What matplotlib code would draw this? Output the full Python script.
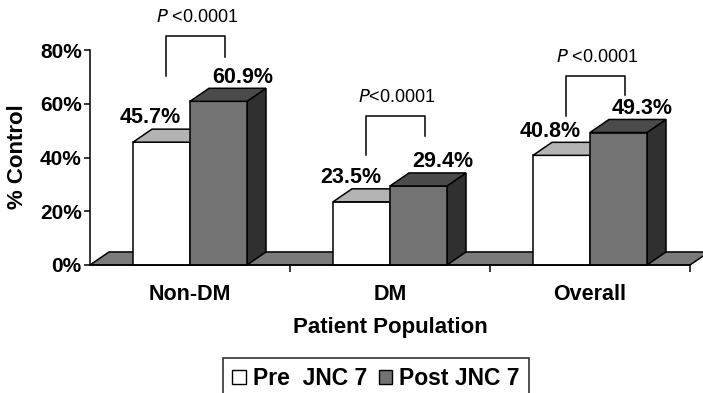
import matplotlib.pyplot as plt
from matplotlib.patches import Polygon, Patch

plt.rcParams["font.family"] = ["Liberation Sans", "DejaVu Sans"]

categories = ["Non-DM", "DM", "Overall"]
pre_jnc7 = [45.7, 23.5, 40.8]
post_jnc7 = [60.9, 29.4, 49.3]
series_names = ["Pre  JNC 7", "Post JNC 7"]
p_labels = ["$\\it{P}$ <0.0001", "$\\it{P}$<0.0001", "$\\it{P}$ <0.0001"]
# bracket heights (left end, top, right end) in % units
bracket_left = [70.3, 40.9, 55.4]
bracket_top = [85.2, 55.4, 70.3]
bracket_right = [77.4, 48.0, 63.3]
yticks = [0, 20, 40, 60, 80]

W, H = 703, 393
fig = plt.figure(figsize=(W / 100, H / 100), dpi=100)
fig.patch.set_facecolor("white")
ax = fig.add_axes([90 / W, (H - 265) / H, 600 / W, 215 / H])

bar_w = 0.285
dx, dy = 0.095, 4.85  # depth of the 3-D effect in data units
edge = dict(edgecolor="black", linewidth=1.1)

ax.set_xlim(-0.5, 2.5)
ax.set_ylim(0, 80)

# floor
x0, x1 = ax.get_xlim()
ax.add_patch(Polygon([(x0, 0), (x1, 0), (x1 + dx, dy), (x0 + dx, dy)],
                     closed=True, facecolor="#7a7a7a", clip_on=False, zorder=1, **edge))


def box(xl, v, front, top, side, z):
    ax.bar(xl, v, width=bar_w, align="edge", color=front, zorder=z, clip_on=False, **edge)
    ax.add_patch(Polygon([(xl, v), (xl + dx, v + dy), (xl + bar_w + dx, v + dy), (xl + bar_w, v)],
                         closed=True, facecolor=top, zorder=z, clip_on=False, **edge))
    ax.add_patch(Polygon([(xl + bar_w, 0), (xl + bar_w + dx, dy), (xl + bar_w + dx, v + dy), (xl + bar_w, v)],
                         closed=True, facecolor=side, zorder=z - 0.5, clip_on=False, **edge))


for i in range(len(categories)):
    box(i - bar_w, pre_jnc7[i], "white", "#b4b4b4", "#d0d0d0", 3)
    box(i, post_jnc7[i], "#737373", "#4b4b4b", "#303030", 5)

    lbl = dict(ha="center", va="center", fontsize=15.5, fontweight="bold", zorder=6)
    ax.text(i - bar_w / 2 - 0.055, pre_jnc7[i] + 9.0, f"{pre_jnc7[i]}%", **lbl)
    ax.text(i + bar_w / 2 + 0.12, post_jnc7[i] + 9.0, f"{post_jnc7[i]}%", **lbl)

    bl = i - bar_w / 2 + 0.02
    br = i + bar_w / 2 + 0.03
    ax.plot([bl, bl, br, br], [bracket_left[i], bracket_top[i], bracket_top[i], bracket_right[i]],
            color="black", linewidth=1.1, clip_on=False)
    ax.text((bl + br) / 2 + 0.01, bracket_top[i] + 6.8, p_labels[i], ha="center", va="center",
            fontsize=13)

for s in ["top", "right"]:
    ax.spines[s].set_visible(False)
for s in ["left", "bottom"]:
    ax.spines[s].set_linewidth(1.1)
    ax.spines[s].set_zorder(8)

ax.set_yticks(yticks)
ax.set_yticklabels([f"{t}%" for t in yticks], fontsize=15, fontweight="bold")
ax.tick_params(axis="y", length=4, width=1.1, pad=2)
ax.set_xticks(range(len(categories)))
ax.set_xticklabels(categories, fontsize=15.5, fontweight="bold")
ax.set_xticks([0.5, 1.5, 2.5], minor=True)
ax.tick_params(axis="x", which="major", length=0, pad=14)
ax.tick_params(axis="x", which="minor", length=5, width=1.1, direction="out")

fig.text(390 / W, 1 - 328 / H, "Patient Population", ha="center", va="center",
         fontsize=16, fontweight="bold")
fig.text(18 / W, 1 - 157 / H, "% Control", ha="center", va="center", rotation=90,
         fontsize=16, fontweight="bold")

handles = [Patch(facecolor="white", edgecolor="black", linewidth=1),
           Patch(facecolor="#737373", edgecolor="black", linewidth=1)]
leg = fig.legend(handles, series_names, loc="upper center", bbox_to_anchor=(376 / W, 1 - 358 / H),
                 ncol=2, prop=dict(size=16.5, weight="bold"), frameon=True, fancybox=False,
                 handlelength=0.6, handleheight=0.6, handletextpad=0.3, columnspacing=0.5,
                 borderpad=0.4, borderaxespad=0)
leg.get_frame().set_edgecolor("black")
leg.get_frame().set_linewidth(1.2)

fig.savefig("out.png", dpi=100, facecolor="white")
